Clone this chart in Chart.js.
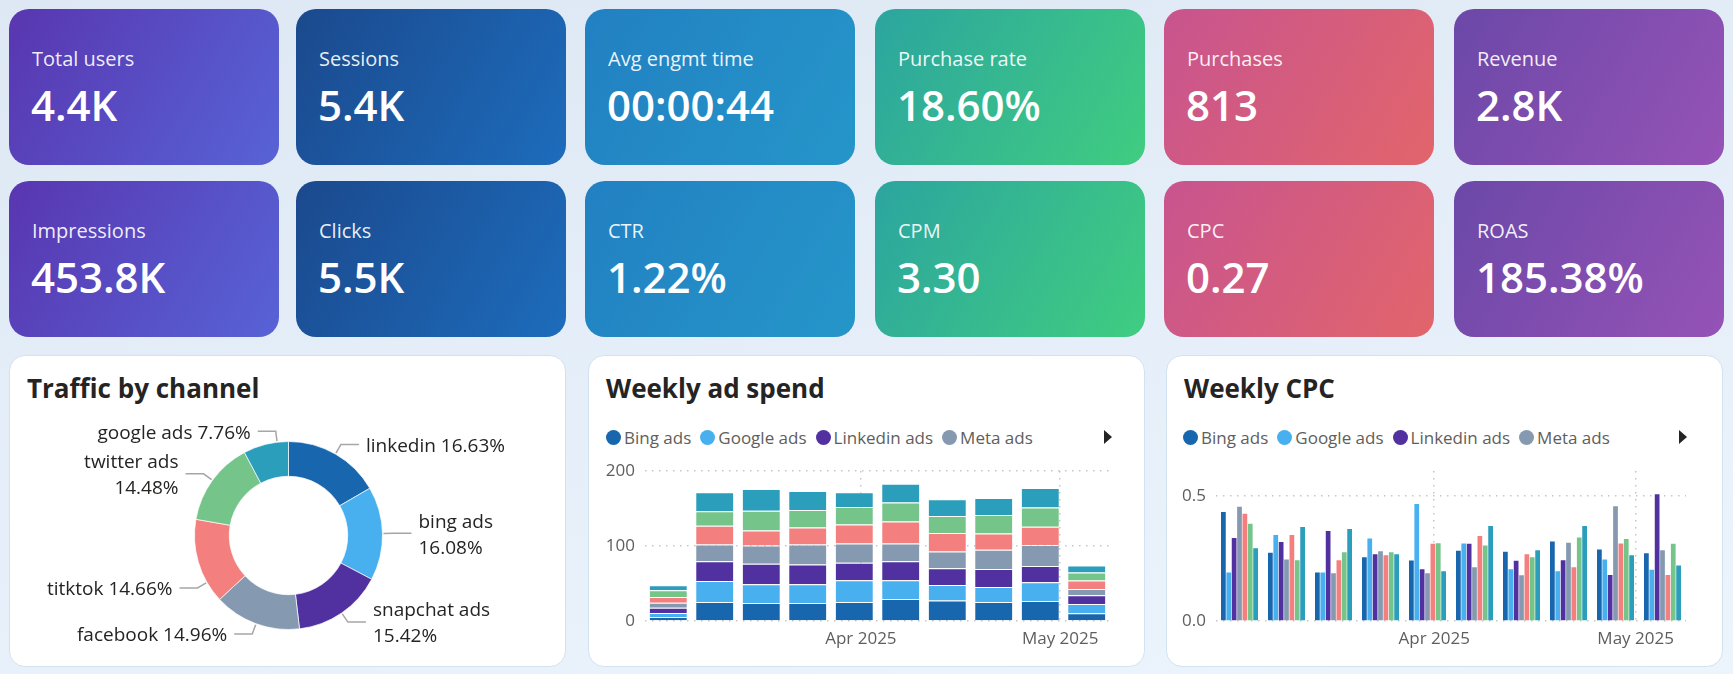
<!DOCTYPE html>
<html>
<head>
<meta charset="utf-8">
<script src="https://cdn.jsdelivr.net/npm/chart.js@4.4.1/dist/chart.umd.min.js"></script>
<style>
  html, body { margin: 0; padding: 0; }
  body {
    width: 1733px; height: 674px; position: relative; overflow: hidden;
    background: linear-gradient(170deg, #dde8f4 0%, #e6eff9 55%, #ecf4fc 100%);
    font-family: 'Segoe UI', 'Open Sans', sans-serif;
  }
  .card {
    position: absolute; width: 270px; height: 156px; border-radius: 20px;
    color: #fff; box-sizing: border-box;
  }
  .card .lbl {
    position: absolute; left: 23px; top: 36px; font-size: 20px; line-height: 28px;
    color: rgba(255,255,255,0.92); white-space: nowrap;
  }
  .card .val {
    position: absolute; left: 22px; top: 67px; font-size: 42px; line-height: 58px;
    font-weight: 600; white-space: nowrap;
  }
  .panel {
    position: absolute; top: 355px; width: 557px; height: 312px; box-sizing: border-box;
    background: #fff; border: 1px solid #d3e2f0; border-radius: 16px;
  }
  .panel h2 {
    position: absolute; left: 17px; top: 14px; margin: 0; font-size: 26px; line-height: 36px;
    font-weight: 700; color: #252423; white-space: nowrap;
  }
  .legend {
    position: absolute; top: 425px; height: 24px; display: flex; align-items: center;
    gap: 9px; font-size: 17px; color: #605e5c; white-space: nowrap;
  }
  .legend .item { display: flex; align-items: center; }
  .legend .dot { width: 15px; height: 15px; border-radius: 50%; margin-right: 3px; }
  .arrow {
    position: absolute; top: 430px; width: 0; height: 0;
    border-top: 7px solid transparent; border-bottom: 7px solid transparent;
    border-left: 8px solid #252423;
  }
  canvas { position: absolute; }
</style>
</head>
<body>
<div id="cards"></div>

<div class="panel" style="left:9px"><h2>Traffic by channel</h2></div>
<div class="panel" style="left:588px"><h2>Weekly ad spend</h2></div>
<div class="panel" style="left:1166px"><h2>Weekly CPC</h2></div>

<div class="legend" id="legendSpend" style="left:606px"></div>
<div class="arrow" style="left:1104px"></div>
<div class="legend" id="legendCpc" style="left:1183px"></div>
<div class="arrow" style="left:1679px"></div>

<div style="position:absolute;left:9px;top:410px;width:557px;height:257px"><canvas id="donut"></canvas></div>
<div style="position:absolute;left:588px;top:455px;width:556px;height:212px"><canvas id="spend"></canvas></div>
<div style="position:absolute;left:1166px;top:455px;width:557px;height:212px"><canvas id="cpc"></canvas></div>

<script>
// KPI tiles
const kpiLabels = ['Total users', 'Sessions', 'Avg engmt time', 'Purchase rate', 'Purchases', 'Revenue',
                   'Impressions', 'Clicks', 'CTR', 'CPM', 'CPC', 'ROAS'];
const kpiValues = ['4.4K', '5.4K', '00:00:44', '18.60%', '813', '2.8K',
                   '453.8K', '5.5K', '1.22%', '3.30', '0.27', '185.38%'];

// traffic by channel (donut)
const channelNames  = ['linkedin', 'bing ads', 'snapchat ads', 'facebook', 'titktok', 'twitter ads', 'google ads'];
const channelShares = [16.63, 16.08, 15.42, 14.96, 14.66, 14.48, 7.76];

// weekly series
const weekStarts = ['2025-03-03', '2025-03-10', '2025-03-17', '2025-03-24', '2025-03-31',
                    '2025-04-07', '2025-04-14', '2025-04-21', '2025-04-28', '2025-05-05'];
const adNames = ['Bing ads', 'Google ads', 'Linkedin ads', 'Meta ads', 'Snapchat ads', 'Tiktok ads', 'Twitter ads'];

const bingSpend     = [5.3, 25.4, 24.1, 24.1, 25.4, 29.4, 27.2, 25.4, 26.7, 10.2];
const googleSpend   = [5.3, 28.1, 24.9, 24.9, 29.0, 24.9, 20.9, 20.0, 24.9, 12.5];
const linkedinSpend = [7.1, 26.3, 27.2, 26.3, 23.2, 25.4, 22.3, 24.1, 21.8, 11.6];
const metaSpend     = [6.7, 22.3, 24.5, 26.7, 25.8, 23.6, 22.3, 25.4, 28.1, 8.5];
const snapchatSpend = [7.6, 24.9, 20.0, 22.7, 25.4, 29.4, 24.5, 21.8, 24.1, 11.1];
const tiktokSpend   = [8.9, 19.2, 26.3, 23.2, 23.2, 25.4, 22.7, 24.5, 25.8, 10.7];
const twitterSpend  = [6.7, 25.4, 29.0, 25.4, 19.6, 24.9, 22.3, 22.7, 25.8, 9.4];

const bingCpc     = [0.436, 0.273, 0.194, 0.255, 0.242, 0.281, 0.277, 0.318, 0.286, 0.271];
const googleCpc   = [0.194, 0.344, 0.194, 0.330, 0.468, 0.310, 0.207, 0.199, 0.246, 0.205];
const linkedinCpc = [0.332, 0.316, 0.360, 0.267, 0.207, 0.309, 0.241, 0.243, 0.184, 0.507];
const metaCpc     = [0.457, 0.246, 0.191, 0.279, 0.191, 0.215, 0.183, 0.313, 0.459, 0.283];
const snapchatCpc = [0.429, 0.344, 0.243, 0.263, 0.309, 0.340, 0.267, 0.215, 0.310, 0.184];
const tiktokCpc   = [0.389, 0.243, 0.275, 0.275, 0.311, 0.302, 0.255, 0.334, 0.328, 0.309];
const twitterCpc  = [0.291, 0.376, 0.368, 0.267, 0.199, 0.380, 0.283, 0.380, 0.263, 0.222];

const spendTicks = [0, 100, 200];
const cpcTicks = [0, 0.5];

// theme
const palette = ['#1866ae', '#48b0ee', '#5130a0', '#8599b0', '#f47f7f', '#75c58a', '#2a9ebb'];
const cardGradients = [
  ['#5936b0', '#5763d6'], ['#1b498d', '#1d6cbc'], ['#2280c2', '#2596c9'],
  ['#2ca59f', '#40cd80'], ['#c8548f', '#e2656b'], ['#6b48a8', '#9553b6']
];
const colX = [9, 296, 585, 875, 1164, 1454];
const rowY = [9, 181];

Chart.defaults.font.family = "'Segoe UI', 'Open Sans', sans-serif";
Chart.defaults.animation = false;

function buildCards() {
  const host = document.getElementById('cards');
  kpiLabels.forEach((lbl, i) => {
    const col = i % 6, row = Math.floor(i / 6);
    const g = cardGradients[col];
    const el = document.createElement('div');
    el.className = 'card';
    el.style.left = colX[col] + 'px';
    el.style.top = rowY[row] + 'px';
    el.style.background = `linear-gradient(120deg, ${g[0]} 0%, ${g[1]} 100%)`;
    el.innerHTML = `<div class="lbl">${lbl}</div><div class="val">${kpiValues[i]}</div>`;
    host.appendChild(el);
  });
}

function buildLegend(id) {
  const host = document.getElementById(id);
  adNames.slice(0, 4).forEach((name, i) => {
    const it = document.createElement('div');
    it.className = 'item';
    it.innerHTML = `<span class="dot" style="background:${palette[i]}"></span><span>${name}</span>`;
    host.appendChild(it);
  });
}

// labels with leader lines for the donut
const outsideLabels = {
  id: 'outsideLabels',
  afterDatasetsDraw(chart, args, opts) {
    const ctx = chart.ctx;
    const meta = chart.getDatasetMeta(0);
    ctx.save();
    ctx.font = `${opts.size}px 'Segoe UI', 'Open Sans', sans-serif`;
    ctx.fillStyle = '#252423';
    ctx.strokeStyle = '#a8a6a4';
    ctx.lineWidth = 1.5;
    ctx.textBaseline = 'middle';
    meta.data.forEach((arc, i) => {
      const p = arc.getProps(['x', 'y', 'startAngle', 'endAngle', 'outerRadius'], true);
      const a = (p.startAngle + p.endAngle) / 2 + (opts.shift[i] || 0) * Math.PI / 180;
      const r0 = p.outerRadius + 1, r1 = p.outerRadius + 11;
      const x0 = p.x + Math.cos(a) * r0, y0 = p.y + Math.sin(a) * r0;
      const x1 = p.x + Math.cos(a) * r1, y1 = p.y + Math.sin(a) * r1;
      const right = Math.cos(a) >= 0;
      const x2 = x1 + (right ? 18 : -18);
      ctx.beginPath();
      ctx.moveTo(x0, y0);
      ctx.lineTo(x1, y1);
      ctx.lineTo(x2, y1);
      ctx.stroke();
      const name = chart.data.labels[i];
      const pct = chart.data.datasets[0].data[i].toFixed(2) + '%';
      const lines = opts.wrap.includes(name) ? [name, pct] : [name + ' ' + pct];
      ctx.textAlign = right ? 'left' : 'right';
      const tx = x2 + (right ? 7 : -7);
      lines.forEach((t, k) => {
        ctx.fillText(t, tx, y1 + 2 + (k - (lines.length - 1) / 2) * 26);
      });
    });
    ctx.restore();
  }
};

function renderDonut() {
  new Chart(document.getElementById('donut'), {
    type: 'doughnut',
    data: {
      labels: channelNames,
      datasets: [{
        data: channelShares,
        backgroundColor: palette,
        borderColor: 'rgba(255,255,255,0.7)',
        borderWidth: 1
      }]
    },
    options: {
      responsive: true,
      maintainAspectRatio: false,
      cutout: '63%',
      layout: { padding: { left: 185, right: 183, top: 31, bottom: 37 } },
      plugins: {
        legend: { display: false },
        tooltip: { enabled: false },
        outsideLabels: {
          size: 19,
          wrap: ['bing ads', 'snapchat ads', 'twitter ads'],
          shift: [0, 0, 0, 0, -13.5, 0, 7]
        }
      }
    },
    plugins: [outsideLabels]
  });
}

// date helpers
const DAY = 86400000;
function dayNum(s) {
  const [y, m, d] = s.split('-').map(Number);
  return Date.UTC(y, m - 1, d) / DAY;
}
const weekDays = weekStarts.map(dayNum);
const dayMin = weekDays[0] - 3.5;
const dayMax = weekDays[weekDays.length - 1] + 3.5;
const MONTHS = ['Jan', 'Feb', 'Mar', 'Apr', 'May', 'Jun', 'Jul', 'Aug', 'Sep', 'Oct', 'Nov', 'Dec'];

// month boundaries that fall inside the data range
function monthStarts() {
  const out = [];
  const first = weekDays[0], last = weekDays[weekDays.length - 1];
  const d0 = new Date(first * DAY);
  let y = d0.getUTCFullYear(), m = d0.getUTCMonth();
  while (true) {
    const v = Date.UTC(y, m, 1) / DAY;
    if (v > last) break;
    if (v >= first) out.push(v);
    m++;
    if (m > 11) { m = 0; y++; }
  }
  return out;
}
function monthLabel(v) {
  const d = new Date(v * DAY);
  return `${MONTHS[d.getUTCMonth()]} ${d.getUTCFullYear()}`;
}

const gridStyle = { color: '#c6c6c6', lineWidth: 1.5, drawTicks: false, offset: false };
const borderStyle = { display: false, dash: [1.5, 5.5] };
const tickFont = { size: 17 };

function renderWeekly(id, series, stacked, yTicks, yMax, yFmt, yWidth, rightPad) {
  const datasets = series.map((vals, i) => ({
    label: adNames[i],
    data: vals.map((v, k) => ({ x: weekDays[k], y: v })),
    backgroundColor: palette[i],
    borderColor: stacked ? 'rgba(255,255,255,0.55)' : 'transparent',
    borderWidth: stacked ? { top: 1 } : 0,
    categoryPercentage: 0.8,
    barPercentage: stacked ? 1 : 0.88
  }));

  new Chart(document.getElementById(id), {
    type: 'bar',
    data: { datasets },
    options: {
      responsive: true,
      maintainAspectRatio: false,
      layout: { padding: { left: 0, right: rightPad, top: 16, bottom: 6 } },
      plugins: { legend: { display: false }, tooltip: { enabled: false } },
      scales: {
        x: {
          type: 'linear',
          min: dayMin, max: dayMax,
          bounds: 'data',
          offset: false,
          stacked,
          grid: gridStyle,
          border: borderStyle,
          afterBuildTicks: s => { s.ticks = monthStarts().map(v => ({ value: v })); },
          afterFit: s => { s.height = 40; s.paddingLeft = 0; s.paddingRight = 0; },
          ticks: {
            autoSkip: false, maxRotation: 0, padding: 8,
            color: '#605e5c', font: tickFont,
            callback: v => monthLabel(v)
          }
        },
        y: {
          min: 0, max: yMax,
          stacked,
          grid: gridStyle,
          border: borderStyle,
          afterBuildTicks: s => { s.ticks = yTicks.map(v => ({ value: v })); },
          // keep the plot top fixed by the layout padding, not by the tick label size
          afterFit: s => { s.width = yWidth; s.paddingTop = 0; s.paddingBottom = 0; },
          ticks: { padding: 10, color: '#605e5c', font: tickFont, callback: yFmt }
        }
      }
    }
  });
}

document.addEventListener('DOMContentLoaded', () => {
  buildCards();
  buildLegend('legendSpend');
  buildLegend('legendCpc');
  renderDonut();
  renderWeekly('spend',
    [bingSpend, googleSpend, linkedinSpend, metaSpend, snapchatSpend, tiktokSpend, twitterSpend],
    true, spendTicks, 200, v => String(v), 57, 34);
  renderWeekly('cpc',
    [bingCpc, googleCpc, linkedinCpc, metaCpc, snapchatCpc, tiktokCpc, twitterCpc],
    false, cpcTicks, 0.6, v => v.toFixed(1), 50, 37);
});
</script>
</body>
</html>
